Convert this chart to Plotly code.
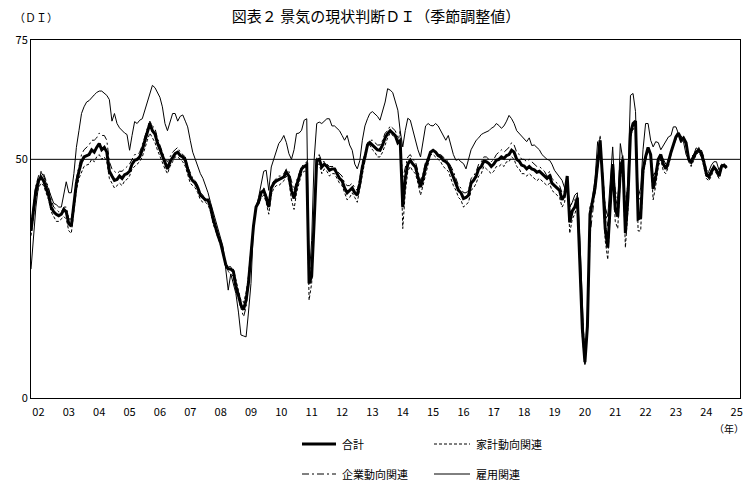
import plotly.graph_objects as go
import pandas as pd

# 景気の現状判断DI（季節調整値）, monthly from 2002-01
total = [
    35.0, 39.5, 43.5, 45.5, 46.3, 45.5, 44.0, 42.5, 40.0, 39.0, 38.5, 38.2,  # 2002
    38.5, 39.5, 39.0, 36.5, 36.0, 40.0, 45.0, 47.5, 49.5, 50.5, 50.8, 51.0,  # 2003
    52.0, 51.5, 52.5, 53.3, 52.0, 52.5, 51.5, 47.5, 46.5, 45.6, 45.8, 46.5,  # 2004
    46.0, 46.8, 47.0, 47.5, 49.0, 49.8, 50.0, 50.5, 52.0, 54.0, 55.5, 57.5,  # 2005
    56.0, 55.3, 53.5, 52.0, 50.5, 49.0, 48.0, 49.5, 50.5, 51.2, 51.5, 50.8,  # 2006
    50.5, 49.8, 48.0, 46.3, 45.5, 45.0, 44.0, 42.5, 42.0, 41.5, 41.5, 40.0,  # 2007
    37.5, 35.5, 34.0, 32.5, 30.5, 28.0, 27.0, 27.0, 26.5, 23.5, 21.5, 19.5,  # 2008
    18.5, 20.5, 24.0, 30.0, 36.0, 40.0, 41.0, 43.0, 43.5, 42.0, 40.0, 44.0,  # 2009
    45.0, 45.5, 45.8, 46.0, 46.3, 47.3, 46.5, 43.5, 41.8, 44.5, 46.3, 48.0,  # 2010
    48.5, 48.8, 24.0, 25.5, 37.0, 49.8, 50.0, 48.4, 49.0, 48.5, 47.7, 48.0,  # 2011
    48.0, 47.0, 46.0, 45.5, 44.0, 43.0, 43.5, 44.0, 43.0, 42.5, 45.0, 48.4,  # 2012
    50.5, 53.0, 53.5, 53.0, 52.6, 52.0, 51.9, 53.0, 54.5, 55.4, 56.0, 55.5,  # 2013
    55.0, 53.5, 54.0, 40.0, 46.0, 49.0, 49.8, 49.0, 48.4, 46.3, 44.2, 46.0,  # 2014
    48.4, 50.0, 51.5, 51.9, 51.5, 50.8, 50.5, 49.8, 49.5, 49.0, 47.7, 46.5,  # 2015
    45.0, 43.5, 43.0, 41.8, 42.0, 42.5, 45.0, 45.6, 46.5, 48.0, 48.5, 49.6,  # 2016
    49.5, 49.1, 48.5, 49.0, 49.8, 50.0, 50.5, 50.2, 50.8, 51.0, 51.9, 51.5,  # 2017
    50.0, 49.6, 48.8, 48.6, 48.0, 48.5, 48.0, 47.8, 47.3, 47.5, 47.0, 46.6,  # 2018
    46.0, 46.5, 45.0, 44.5, 44.0, 43.5, 41.5, 42.5, 46.5, 36.8, 39.2, 40.0,  # 2019
    42.0, 27.0, 14.5, 7.5, 15.0, 38.5, 41.0, 44.0, 49.0, 54.0, 45.5, 35.5,   # 2020
    31.5, 41.5, 49.0, 39.5, 38.0, 47.6, 50.0, 34.5, 42.0, 55.5, 57.5, 58.0,  # 2021
    37.5, 37.8, 47.8, 50.5, 52.5, 51.0, 43.8, 46.5, 50.0, 51.0, 49.0, 48.0,  # 2022
    49.5, 51.5, 53.3, 54.7, 55.5, 54.0, 54.5, 53.5, 50.0, 49.4, 50.5, 51.5,  # 2023
    52.0, 51.2, 49.5, 47.0, 46.3, 47.5, 48.4, 47.7, 46.5, 48.5, 48.8, 48.2,  # 2024
]

household = [
    34.0, 38.5, 42.0, 44.0, 45.0, 44.5, 43.0, 41.5, 39.0, 38.0, 37.0, 37.0,  # 2002
    37.5, 38.0, 37.5, 35.0, 34.5, 38.5, 43.5, 46.0, 47.5, 48.5, 48.8, 49.0,  # 2003
    50.0, 49.5, 50.5, 51.0, 50.0, 50.5, 49.5, 46.0, 45.0, 44.0, 44.5, 45.0,  # 2004
    44.5, 45.5, 45.8, 46.5, 48.0, 48.5, 49.0, 49.5, 50.5, 52.5, 54.0, 55.5,  # 2005
    54.5, 53.5, 52.0, 50.5, 49.5, 48.0, 47.0, 48.5, 49.5, 50.5, 50.5, 50.0,  # 2006
    49.5, 48.5, 47.0, 45.0, 44.5, 44.0, 43.0, 41.5, 41.0, 41.0, 40.5, 39.0,  # 2007
    36.5, 35.0, 33.5, 32.0, 30.0, 28.0, 27.5, 27.5, 27.0, 24.5, 22.5, 20.5,  # 2008
    20.0, 22.0, 25.5, 31.0, 36.5, 40.0, 40.5, 42.0, 42.5, 41.0, 38.5, 42.5,  # 2009
    44.0, 44.5, 44.5, 45.0, 45.5, 46.5, 45.5, 41.5, 39.5, 43.0, 45.0, 47.0,  # 2010
    47.5, 47.5, 20.5, 24.0, 36.0, 49.0, 49.0, 47.0, 48.0, 47.5, 46.5, 47.0,  # 2011
    47.0, 46.0, 45.0, 44.5, 43.0, 41.5, 42.0, 43.0, 42.0, 41.0, 44.0, 47.0,  # 2012
    49.5, 52.5, 53.0, 52.0, 51.5, 50.5, 50.5, 51.5, 53.0, 54.5, 55.5, 55.0,  # 2013
    54.5, 53.5, 56.0, 35.5, 43.0, 47.5, 48.5, 47.5, 47.0, 45.0, 42.5, 44.5,  # 2014
    47.0, 49.0, 51.0, 51.0, 50.5, 50.0, 49.5, 48.5, 48.0, 47.5, 46.0, 44.5,  # 2015
    43.5, 42.0, 41.5, 40.0, 40.5, 41.0, 43.5, 44.0, 45.0, 46.5, 47.0, 48.5,  # 2016
    48.0, 47.5, 47.0, 47.5, 48.5, 48.5, 49.0, 48.5, 49.5, 49.5, 50.5, 50.0,  # 2017
    48.5, 48.0, 47.0, 47.0, 46.5, 47.0, 46.5, 46.0, 45.5, 46.0, 45.5, 45.0,  # 2018
    44.5, 45.0, 43.5, 43.0, 42.5, 42.0, 40.0, 41.0, 46.5, 34.5, 37.5, 38.5,  # 2019
    40.5, 25.0, 13.0, 7.0, 15.5, 40.0, 41.5, 43.0, 49.0, 55.0, 44.5, 33.0,   # 2020
    29.0, 40.5, 48.5, 37.0, 35.5, 46.0, 48.5, 31.5, 39.5, 54.5, 56.5, 57.5,  # 2021
    35.0, 35.0, 46.5, 49.5, 52.5, 50.5, 41.5, 44.5, 48.5, 50.0, 47.5, 47.0,  # 2022
    48.5, 51.0, 53.5, 54.5, 55.5, 53.5, 54.0, 53.0, 49.5, 48.5, 50.0, 51.0,  # 2023
    51.5, 50.5, 48.5, 46.0, 45.5, 46.5, 48.0, 47.0, 46.0, 48.0, 48.5, 48.0,  # 2024
]

corporate = [
    36.0, 40.5, 44.5, 46.5, 47.5, 47.0, 45.5, 44.0, 41.5, 40.0, 39.5, 39.0,  # 2002
    39.0, 40.0, 40.0, 37.5, 37.5, 41.0, 46.0, 48.5, 51.0, 52.0, 52.5, 53.0,  # 2003
    54.0, 54.0, 54.5, 55.5, 55.0, 55.0, 54.0, 49.5, 48.0, 47.5, 47.0, 47.5,  # 2004
    47.5, 48.0, 48.5, 49.0, 50.0, 51.0, 51.0, 51.5, 53.0, 55.0, 56.5, 58.0,  # 2005
    57.0, 56.5, 54.5, 53.0, 51.5, 50.0, 49.5, 50.5, 51.5, 52.0, 52.5, 51.5,  # 2006
    51.0, 50.5, 48.5, 47.0, 46.0, 45.5, 44.5, 43.0, 42.5, 41.5, 41.5, 40.5,  # 2007
    38.0, 36.0, 34.0, 32.5, 30.5, 27.5, 26.5, 26.0, 25.5, 22.5, 20.5, 18.5,  # 2008
    17.0, 19.0, 23.5, 29.0, 35.5, 40.0, 41.5, 43.5, 44.0, 42.5, 41.0, 44.5,  # 2009
    45.5, 46.0, 46.5, 46.5, 47.0, 48.0, 47.5, 45.5, 43.5, 45.5, 47.0, 48.5,  # 2010
    49.0, 49.5, 27.5, 27.0, 38.0, 50.5, 51.0, 49.5, 49.5, 49.0, 48.5, 48.5,  # 2011
    48.5, 47.5, 47.0, 46.5, 45.0, 44.5, 44.5, 45.0, 44.0, 43.5, 46.0, 49.5,  # 2012
    51.0, 53.5, 54.0, 54.0, 53.5, 53.0, 53.0, 54.0, 55.5, 56.0, 57.0, 56.5,  # 2013
    56.0, 54.5, 54.0, 46.0, 48.5, 50.5, 51.0, 50.0, 49.5, 47.5, 45.5, 47.0,  # 2014
    49.5, 50.5, 51.5, 52.0, 51.5, 51.0, 51.0, 50.5, 50.0, 49.5, 48.5, 47.5,  # 2015
    46.0, 44.5, 44.0, 43.0, 43.0, 43.5, 46.0, 46.5, 47.5, 49.0, 49.5, 50.5,  # 2016
    50.5, 50.0, 49.5, 50.0, 51.0, 51.5, 52.0, 51.5, 52.0, 52.5, 53.5, 53.0,  # 2017
    51.5, 51.0, 50.0, 50.0, 49.5, 50.0, 49.5, 49.0, 48.5, 48.5, 48.0, 47.5,  # 2018
    46.5, 47.5, 46.0, 45.5, 45.0, 44.5, 43.0, 43.5, 45.5, 40.0, 41.0, 41.5,  # 2019
    42.5, 31.0, 17.5, 9.5, 14.0, 34.0, 39.0, 44.0, 48.0, 52.0, 47.0, 40.0,   # 2020
    36.0, 43.0, 49.0, 43.5, 41.5, 49.0, 51.0, 40.0, 45.0, 55.0, 56.0, 57.5,  # 2021
    42.0, 41.5, 48.5, 50.5, 51.5, 51.0, 46.5, 47.5, 50.0, 51.0, 50.0, 49.0,  # 2022
    50.0, 51.5, 52.5, 54.0, 55.5, 54.0, 54.5, 53.5, 50.5, 50.5, 51.0, 51.5,  # 2023
    52.5, 52.0, 50.5, 48.0, 46.5, 48.0, 48.5, 48.0, 47.0, 48.5, 49.0, 48.5,  # 2024
]

employment = [
    27.0, 34.0, 40.0, 44.5, 47.3, 46.5, 45.0, 43.5, 42.0, 40.8, 40.5, 40.0,  # 2002
    40.0, 43.0, 45.3, 43.0, 43.0, 47.0, 52.5, 56.0, 59.6, 61.0, 62.0, 62.3,  # 2003
    63.0, 63.5, 64.0, 64.3, 64.3, 63.8, 63.4, 62.5, 58.0, 59.6, 57.5, 56.6,  # 2004
    56.0, 55.5, 55.2, 51.9, 55.0, 57.9, 57.5, 58.2, 58.5, 60.3, 62.3, 63.8,  # 2005
    65.5, 65.0, 64.1, 63.0, 61.0, 57.5, 56.0, 58.0, 59.6, 59.6, 58.0, 59.0,  # 2006
    59.3, 58.0, 56.8, 54.0, 51.5, 50.0, 48.4, 47.0, 46.0, 44.5, 43.0, 41.0,  # 2007
    39.0, 37.0, 35.0, 33.0, 31.6, 27.0, 22.6, 26.0, 24.0, 21.9, 18.0, 13.2,  # 2008
    13.0, 12.8, 17.8, 24.0, 35.8, 40.0, 42.0, 45.0, 47.5, 47.7, 43.5, 48.4,  # 2009
    50.0, 52.0, 53.3, 54.0, 55.0, 53.5, 51.2, 50.0, 52.0, 55.4, 55.5, 56.1,  # 2010
    58.2, 58.5, 25.0, 33.0, 50.0, 57.5, 57.8, 57.5, 58.0, 58.5, 58.5, 57.0,  # 2011
    57.0, 56.5, 56.0, 55.0, 54.0, 55.0, 53.0, 51.9, 49.0, 48.0, 49.8, 54.0,  # 2012
    57.0, 58.5, 59.6, 60.0, 59.6, 59.0, 58.2, 60.0, 62.0, 64.8, 64.5, 64.0,  # 2013
    62.0, 60.3, 56.0, 52.6, 56.0, 58.6, 58.2, 56.0, 54.0, 52.0, 50.5, 54.0,  # 2014
    57.0, 57.5, 57.1, 57.0, 57.5, 57.0, 56.0, 55.0, 54.0, 55.0, 53.0, 51.0,  # 2015
    49.8, 50.0, 49.5, 49.1, 48.0, 49.8, 52.0, 53.0, 54.0, 54.5, 55.2, 55.5,  # 2016
    55.7, 56.0, 56.5, 56.8, 57.5, 57.1, 56.5, 57.0, 58.0, 59.2, 58.5, 57.5,  # 2017
    56.0, 55.4, 55.0, 54.4, 53.7, 54.5, 52.9, 53.0, 52.5, 52.0, 51.0, 50.5,  # 2018
    50.0, 49.8, 49.0, 47.7, 47.0, 46.5, 45.6, 44.0, 45.0, 40.0, 41.0, 42.5,  # 2019
    43.0, 33.0, 20.0, 7.0, 16.0, 36.0, 42.0, 46.0, 53.7, 51.0, 47.0, 40.0,   # 2020
    38.0, 45.0, 52.6, 42.0, 40.0, 53.3, 50.0, 38.0, 46.0, 63.4, 63.8, 60.0,  # 2021
    42.0, 44.0, 52.0, 57.5, 57.5, 54.0, 52.6, 53.7, 53.5, 52.0, 53.0, 54.0,  # 2022
    54.7, 55.0, 56.8, 56.8, 55.4, 55.0, 53.7, 51.0, 50.0, 50.0, 51.0, 52.4,  # 2023
    52.0, 51.5, 50.0, 46.3, 47.5, 48.8, 49.5, 49.5, 47.7, 49.0, 48.7, 48.7,  # 2024
]

tick_years = list(range(2002, 2026))
tick_labels = [f"{y % 100:02d}" for y in tick_years]

dates = pd.date_range("2002-01-01", periods=len(total), freq="MS")

W, H = 755, 486
L, R, T, B = 31, 740, 40, 398  # plot box in pixels

fig = go.Figure()
fig.add_trace(go.Scatter(x=dates, y=employment, mode="lines", name="雇用関連",
                         line=dict(color="black", width=1)))
fig.add_trace(go.Scatter(x=dates, y=corporate, mode="lines", name="企業動向関連",
                         line=dict(color="black", width=1, dash="7px,3px,2px,3px")))
fig.add_trace(go.Scatter(x=dates, y=household, mode="lines", name="家計動向関連",
                         line=dict(color="black", width=1, dash="3px,2px")))
fig.add_trace(go.Scatter(x=dates, y=total, mode="lines", name="合計",
                         line=dict(color="black", width=3)))

# 50 reference line
fig.add_shape(type="line", xref="paper", yref="y", x0=0, x1=1, y0=50, y1=50,
              line=dict(color="black", width=1))


def px_x(p):
    return (p - L) / (R - L)


def px_y(p):
    return (B - p) / (B - T)


font = "Noto Sans CJK JP"
# manual legend
legend_items = [
    ("合計", 302, 336, 444, dict(color="black", width=3)),
    ("家計動向関連", 434, 470, 444, dict(color="black", width=1, dash="3px,2px")),
    ("企業動向関連", 302, 336, 474, dict(color="black", width=1, dash="7px,3px,2px,3px")),
    ("雇用関連", 434, 470, 474, dict(color="black", width=1)),
]
for name, x0, x1, yy, ln in legend_items:
    fig.add_shape(type="line", xref="paper", yref="paper",
                  x0=px_x(x0), x1=px_x(x1), y0=px_y(yy), y1=px_y(yy), line=ln)
    fig.add_annotation(xref="paper", yref="paper", x=px_x(x1 + 4), y=px_y(yy),
                       text=name, showarrow=False, xanchor="left", yanchor="middle",
                       font=dict(family=font, size=11, color="black"))

fig.add_annotation(xref="paper", yref="paper", x=px_x(12), y=px_y(17),
                   text="（ＤＩ）", showarrow=False, xanchor="left", yanchor="middle",
                   font=dict(family=font, size=11, color="black"))
fig.add_annotation(xref="paper", yref="paper", x=px_x(746), y=px_y(428),
                   text="（年）", showarrow=False, xanchor="right", yanchor="middle",
                   font=dict(family=font, size=10, color="black"))

fig.update_layout(
    width=W, height=H,
    margin=dict(l=L, r=W - R, t=T, b=H - B),
    paper_bgcolor="white", plot_bgcolor="white",
    showlegend=False,
    title=dict(text="図表２ 景気の現状判断ＤＩ（季節調整値）", x=376 / W, y=1 - 17 / H,
               xanchor="center", yanchor="middle",
               font=dict(family=font, size=15, color="black")),
    font=dict(family=font, size=11, color="black"),
)
fig.update_xaxes(type="date", range=["2002-01-01", "2025-05-11"],
                 tickvals=[f"{y}-04-01" for y in tick_years], ticktext=tick_labels,
                 showgrid=False, zeroline=False, ticks="", ticklabelstandoff=4,
                 showline=True, linecolor="black", linewidth=1, mirror=True,
                 tickfont=dict(family=font, size=11, color="black"))
fig.update_yaxes(range=[0, 75], tickvals=[0, 50, 75], ticktext=["0", "50", "75"],
                 showgrid=False, zeroline=False, ticks="",
                 showline=True, linecolor="black", linewidth=1, mirror=True,
                 tickfont=dict(family=font, size=11, color="black"))

fig.write_html("out.html")
